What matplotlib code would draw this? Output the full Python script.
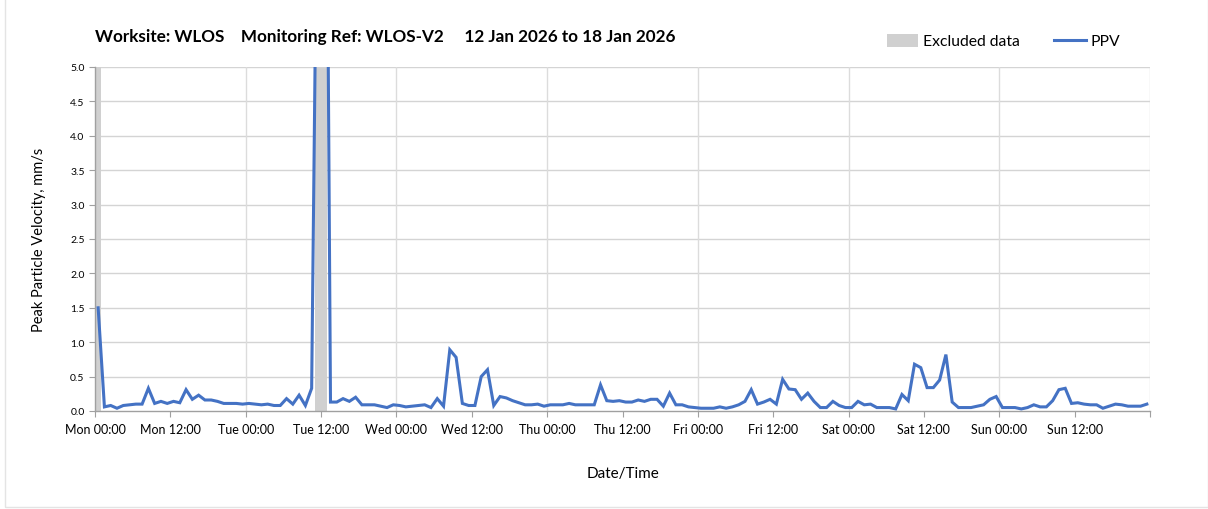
import numpy as np
import pandas as pd
import matplotlib
matplotlib.use("Agg")
import matplotlib.pyplot as plt
from matplotlib.patches import Patch, Rectangle
from matplotlib.lines import Line2D

plt.rcParams['font.family'] = ['Lato', 'DejaVu Sans']

# hourly PPV readings (mm/s), one row per day, Mon..Sun
ppv_mon = [1.5, 0.06, 0.08, 0.04, 0.08, 0.09, 0.10, 0.10, 0.33, 0.11, 0.14, 0.11,
           0.14, 0.12, 0.31, 0.17, 0.23, 0.16, 0.16, 0.14, 0.11, 0.11, 0.11, 0.10]
ppv_tue = [0.11, 0.10, 0.09, 0.10, 0.08, 0.08, 0.18, 0.10, 0.23, 0.08, 0.33, 9.0,
           14.0, 0.13, 0.13, 0.18, 0.14, 0.20, 0.09, 0.09, 0.09, 0.07, 0.05, 0.09]
ppv_wed = [0.08, 0.06, 0.07, 0.08, 0.09, 0.05, 0.18, 0.07, 0.89, 0.78, 0.11, 0.08,
           0.08, 0.50, 0.60, 0.08, 0.21, 0.19, 0.15, 0.12, 0.09, 0.09, 0.10, 0.07]
ppv_thu = [0.09, 0.09, 0.09, 0.11, 0.09, 0.09, 0.09, 0.09, 0.38, 0.15, 0.14, 0.15,
           0.13, 0.13, 0.16, 0.14, 0.17, 0.17, 0.07, 0.26, 0.09, 0.09, 0.06, 0.05]
ppv_fri = [0.04, 0.04, 0.04, 0.06, 0.04, 0.06, 0.09, 0.14, 0.31, 0.10, 0.13, 0.17,
           0.10, 0.46, 0.32, 0.31, 0.17, 0.26, 0.14, 0.05, 0.05, 0.14, 0.08, 0.05]
ppv_sat = [0.05, 0.14, 0.09, 0.10, 0.05, 0.05, 0.05, 0.03, 0.24, 0.15, 0.68, 0.63,
           0.34, 0.34, 0.45, 0.82, 0.13, 0.05, 0.05, 0.05, 0.07, 0.09, 0.17, 0.21]
ppv_sun = [0.05, 0.05, 0.05, 0.03, 0.05, 0.09, 0.06, 0.06, 0.15, 0.31, 0.33, 0.11,
           0.12, 0.10, 0.09, 0.09, 0.04, 0.07, 0.10, 0.09, 0.07, 0.07, 0.07, 0.10]

ppv = ppv_mon + ppv_tue + ppv_wed + ppv_thu + ppv_fri + ppv_sat + ppv_sun
times = pd.date_range("2026-01-12 00:30", periods=len(ppv), freq="h")

excluded_start = ["2026-01-12 00:00", "2026-01-13 11:00"]
excluded_end = ["2026-01-12 01:00", "2026-01-13 13:00"]

tick_labels = ["Mon 00:00", "Mon 12:00", "Tue 00:00", "Tue 12:00", "Wed 00:00",
               "Wed 12:00", "Thu 00:00", "Thu 12:00", "Fri 00:00", "Fri 12:00",
               "Sat 00:00", "Sat 12:00", "Sun 00:00", "Sun 12:00", ""]

t0 = pd.Timestamp("2026-01-12 00:00")
t1 = pd.Timestamp("2026-01-19 00:00")

blue = "#4472C4"
grey = "#d0d0d0"

fig = plt.figure(figsize=(12.08, 5.10), dpi=100)
ax = fig.add_axes([95 / 1208, 98 / 510, 1055 / 1208, 344 / 510])

# faint outer frame like the exported report image
fig.patches.append(Rectangle((5 / 1208, 2 / 510), 1 - 5 / 1208, 1.2, transform=fig.transFigure,
                             fill=False, edgecolor='#e4e4e4', lw=1.0))

for s, e in zip(excluded_start, excluded_end):
    ax.axvspan(pd.Timestamp(s), pd.Timestamp(e), color=grey, lw=0, zorder=1)

ax.plot(times, ppv, color=blue, lw=2.2, zorder=3, solid_joinstyle='miter')

ax.set_xlim(t0, t1)
ax.set_ylim(0, 5)

ax.set_yticks(np.arange(0, 5.01, 0.5))
ax.set_yticklabels([f"{v:.1f}" for v in np.arange(0, 5.01, 0.5)], fontsize=7.5)
xt = pd.date_range(t0, t1, freq="12h")
ax.set_xticks(xt)
ax.set_xticklabels(tick_labels, fontsize=9)
ax.tick_params(axis='both', direction='out', length=4, color='#a0a0a0', width=0.8)
ax.tick_params(axis='x', pad=5)

# grid: horizontal every 0.5, vertical only at midnight
for y in np.arange(0.5, 5.01, 0.5):
    ax.axhline(y, color='#d4d4d4', lw=1.0, zorder=0)
for d in pd.date_range(t0, t1, freq="24h")[1:]:
    ax.axvline(d, color='#dcdcdc', lw=1.0, zorder=0)

for side in ['top', 'right']:
    ax.spines[side].set_visible(False)
for side in ['left', 'bottom']:
    ax.spines[side].set_color('#a0a0a0')
    ax.spines[side].set_linewidth(1.0)

ax.set_xlabel("Date/Time", fontsize=11, labelpad=22)
ax.set_ylabel("Peak Particle Velocity, mm/s", fontsize=10.5, labelpad=17)

fig.text(95 / 1208, 1 - 37 / 510,
         "Worksite: WLOS    Monitoring Ref: WLOS-V2     12 Jan 2026 to 18 Jan 2026",
         fontsize=12.3, fontweight='bold', va='center', ha='left')

handles = [Patch(facecolor=grey, edgecolor='none'),
           Line2D([0], [0], color=blue, lw=2.2)]
fig.legend(handles, ["Excluded data", "PPV"], loc='center right',
           bbox_to_anchor=(1134 / 1208, 1 - 42 / 510), ncol=2, frameon=False,
           fontsize=11.3, handlelength=2.0, handleheight=0.9, columnspacing=2.2,
           handletextpad=0.3)

fig.savefig("out.png", dpi=100)
